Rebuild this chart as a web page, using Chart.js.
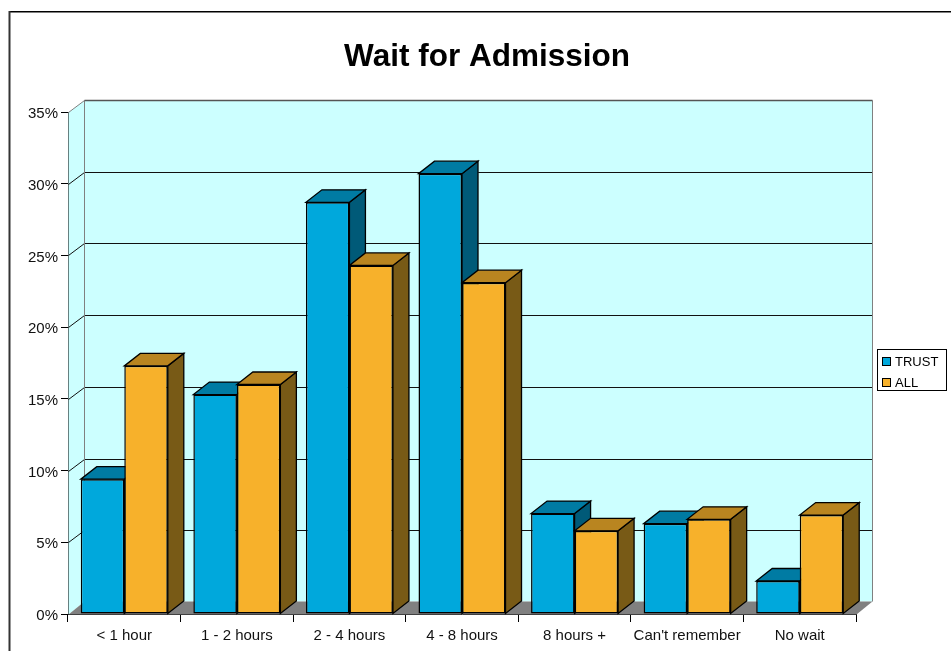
<!DOCTYPE html>
<html>
<head>
<meta charset="utf-8">
<title>Wait for Admission</title>
<script src="https://cdn.jsdelivr.net/npm/chart.js@4"></script>
<style>
  body { margin: 0; background: #fff; }
  canvas { display: block; }
</style>
</head>
<body>
<canvas id="chart" width="951" height="651"></canvas>
<script>
const categories = ["< 1 hour", "1 - 2 hours", "2 - 4 hours", "4 - 8 hours", "8 hours +", "Can't remember", "No wait"];
const trustValues = [9.4, 15.3, 28.7, 30.7, 7.0, 6.3, 2.3];
const allValues = [17.3, 16.0, 24.3, 23.1, 5.8, 6.6, 6.9];

const FONT = "'Liberation Sans', Arial, sans-serif";
const DEPTH_X = 16;
const DEPTH_Y = 12;
const FLOOR_DEPTH_Y = 13;
const BAR_DEPTH_Y = 12.5;

function poly(ctx, pts, fill, stroke) {
    ctx.beginPath();
    pts.forEach((p, i) => i ? ctx.lineTo(p[0], p[1]) : ctx.moveTo(p[0], p[1]));
    ctx.closePath();
    ctx.fillStyle = fill;
    ctx.fill();
    if (stroke) {
        ctx.strokeStyle = stroke;
        ctx.lineWidth = 1.3;
        ctx.stroke();
    }
}

// outer frame: only the top and left edges fall inside the canvas
const framePlugin = {
    id: "frame",
    beforeDraw(chart) {
        const ctx = chart.ctx;
        ctx.save();
        ctx.fillStyle = "#000";
        ctx.fillRect(9, 11, 942, 1.5);
        ctx.fillStyle = "#333";
        ctx.fillRect(8.5, 11, 2, 640);
        ctx.restore();
    },
    // the title is centred over the plot and legend block, not the whole canvas
    afterLayout(chart) {
        chart.titleBlock.left = 0;
        chart.titleBlock.right = 974;
    }
};

// back wall, side wall, floor, grid lines and the top and side faces of the bars
const depthPlugin = {
    id: "depth",
    beforeDatasetsDraw(chart) {
        const ctx = chart.ctx;
        const area = chart.chartArea;
        const y = chart.scales.y;
        const l = area.left + 0.5, r = area.right + 0.5, t = area.top + 0.5, b = area.bottom + 0.5;
        const wallBottom = b - FLOOR_DEPTH_Y;
        ctx.save();
        poly(ctx, [[l + DEPTH_X, t - DEPTH_Y], [r + DEPTH_X, t - DEPTH_Y], [r + DEPTH_X, wallBottom], [l + DEPTH_X, wallBottom]], "#ccffff");
        poly(ctx, [[l, t], [l + DEPTH_X, t - DEPTH_Y], [l + DEPTH_X, wallBottom], [l, b]], "#ccffff");
        poly(ctx, [[l, b], [l + DEPTH_X, wallBottom], [r + DEPTH_X, wallBottom], [r, b]], "#808080");

        ctx.lineWidth = 1;
        ctx.strokeStyle = "#111";
        y.ticks.forEach(tick => {
            if (tick.value === 0 || tick.value === y.max) return;
            const py = Math.round(y.getPixelForValue(tick.value)) + 0.5;
            ctx.beginPath();
            ctx.moveTo(l, py);
            ctx.lineTo(l + DEPTH_X, py - DEPTH_Y);
            ctx.lineTo(r + DEPTH_X, py - DEPTH_Y);
            ctx.stroke();
        });

        ctx.strokeStyle = "#808080";
        ctx.beginPath();
        ctx.moveTo(l + DEPTH_X, wallBottom);
        ctx.lineTo(l + DEPTH_X, t - DEPTH_Y);
        ctx.moveTo(r + DEPTH_X, t - DEPTH_Y);
        ctx.lineTo(r + DEPTH_X, wallBottom);
        ctx.moveTo(l, t);
        ctx.lineTo(l + DEPTH_X, t - DEPTH_Y);
        ctx.stroke();
        ctx.strokeStyle = "#555";
        ctx.lineWidth = 1.5;
        ctx.beginPath();
        ctx.moveTo(l + DEPTH_X, t - DEPTH_Y);
        ctx.lineTo(r + DEPTH_X, t - DEPTH_Y);
        ctx.stroke();

        categories.forEach((c, i) => {
            chart.data.datasets.forEach((ds, d) => {
                const bar = chart.getDatasetMeta(d).data[i];
                const x0 = bar.x - bar.width / 2, x1 = bar.x + bar.width / 2;
                poly(ctx, [[x1, bar.y], [x1 + DEPTH_X, bar.y - BAR_DEPTH_Y], [x1 + DEPTH_X, bar.base - BAR_DEPTH_Y], [x1, bar.base]], ds.sideColor, "#000");
                poly(ctx, [[x0, bar.y], [x1, bar.y], [x1 + DEPTH_X, bar.y - BAR_DEPTH_Y], [x0 + DEPTH_X, bar.y - BAR_DEPTH_Y]], ds.topColor, "#000");
            });
        });
        ctx.restore();
    },
    afterDraw(chart) {
        const ctx = chart.ctx;
        ctx.save();
        ctx.fillStyle = "#fff";
        ctx.strokeStyle = "#000";
        ctx.lineWidth = 1;
        ctx.fillRect(877.5, 349.5, 69, 41);
        ctx.strokeRect(877.5, 349.5, 69, 41);
        ctx.font = "13px " + FONT;
        ctx.textBaseline = "middle";
        chart.data.datasets.forEach((ds, d) => {
            const py = 362 + d * 21;
            ctx.fillStyle = ds.backgroundColor;
            ctx.fillRect(882.5, py - 4.5, 8, 8);
            ctx.strokeRect(882.5, py - 4.5, 8, 8);
            ctx.fillStyle = "#000";
            ctx.fillText(ds.label, 895, py + 0.5);
        });
        ctx.restore();
    }
};

new Chart(document.getElementById("chart"), {
    type: "bar",
    data: {
        labels: categories,
        datasets: [
            {
                label: "TRUST",
                data: trustValues,
                backgroundColor: "#00a8dc",
                topColor: "#007ba3",
                sideColor: "#005a78",
                borderColor: "#000",
                borderWidth: 1.5,
                borderSkipped: false,
                barPercentage: 1,
                categoryPercentage: 0.773
            },
            {
                label: "ALL",
                data: allValues,
                backgroundColor: "#f7b12b",
                topColor: "#b98520",
                sideColor: "#785a16",
                borderColor: "#000",
                borderWidth: 1.5,
                borderSkipped: false,
                barPercentage: 1,
                categoryPercentage: 0.773
            }
        ]
    },
    plugins: [framePlugin, depthPlugin],
    options: {
        responsive: false,
        animation: false,
        layout: { padding: { right: 95 } },
        plugins: {
            legend: { display: false },
            tooltip: { enabled: false },
            title: {
                display: true,
                text: "Wait for Admission",
                color: "#000",
                font: { family: FONT, size: 31.5, weight: "bold", lineHeight: 1.2 },
                padding: { top: 38, bottom: 36.2 }
            }
        },
        scales: {
            x: {
                afterFit(scale) { scale.height = 37; },
                grid: { drawOnChartArea: false, drawTicks: true, tickLength: 8, color: "#000", offset: true },
                border: { color: "#000" },
                ticks: {
                    autoSkip: false,
                    maxRotation: 0,
                    padding: 5,
                    color: "#111",
                    font: { family: FONT, size: 15 }
                }
            },
            y: {
                min: 0,
                max: 35,
                afterFit(scale) { scale.width = 68; },
                grid: { drawOnChartArea: false, drawTicks: true, tickLength: 7, color: "#000" },
                border: { color: "#000" },
                ticks: {
                    stepSize: 5,
                    padding: 3,
                    labelOffset: 2,
                    color: "#111",
                    font: { family: FONT, size: 15 },
                    callback: v => v + "%"
                }
            }
        }
    }
});
</script>
</body>
</html>
